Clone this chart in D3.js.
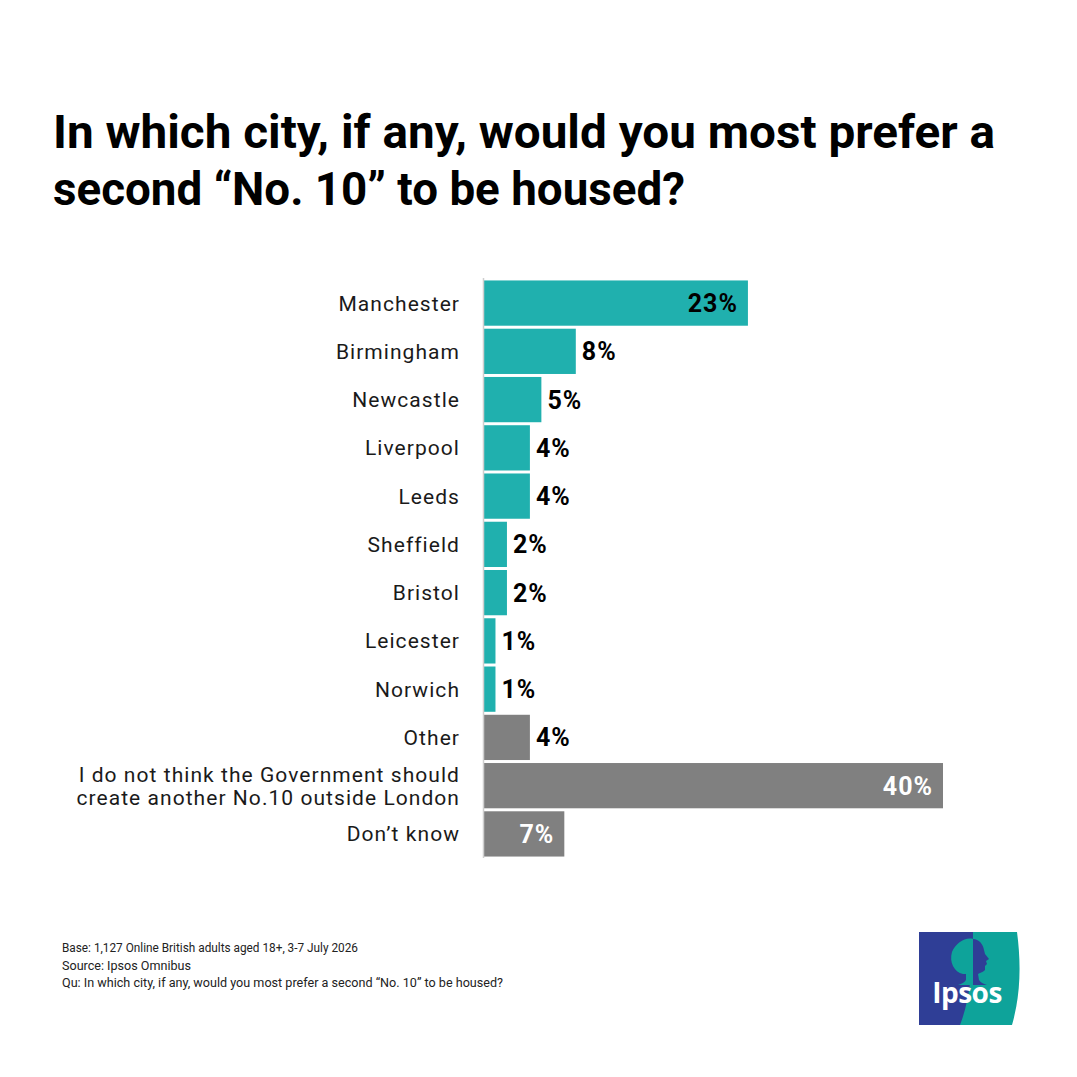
<!DOCTYPE html>
<html>
<head>
<meta charset="utf-8">
<script src="https://cdn.jsdelivr.net/npm/d3@7"></script>
<style>
  html, body { margin: 0; padding: 0; background: #ffffff; }
  svg { display: block; }
</style>
</head>
<body>
<script>
// ---------- DATA ----------
const categories = [
  "Manchester", "Birmingham", "Newcastle", "Liverpool", "Leeds", "Sheffield",
  "Bristol", "Leicester", "Norwich", "Other",
  "I do not think the Government should|create another No.10 outside London",
  "Don\u2019t know"
];
const values = [23, 8, 5, 4, 4, 2, 2, 1, 1, 4, 40, 7];
const groups = ["city","city","city","city","city","city","city","city","city","other","other","other"];
const labelInside = [true,false,false,false,false,false,false,false,false,false,true,true];
const titleLines = [
  "In which city, if any, would you most prefer a",
  "second \u201cNo. 10\u201d to be housed?"
];
const footnotes = [
  "Base: 1,127 Online British adults aged 18+, 3-7 July 2026",
  "Source: Ipsos Omnibus",
  "Qu: In which city, if any, would you most prefer a second \u201cNo. 10\u201d to be housed?"
];

// ---------- SETUP ----------
const W = 1077, H = 1077;
const colors = { city: "#20b0ae", other: "#808080" };
const svg = d3.select("body").append("svg").attr("width", W).attr("height", H);
svg.append("rect").attr("width", W).attr("height", H).attr("fill", "#fff");

// Title
const titleWidths = [942, 632];
svg.append("g").selectAll("text").data(titleLines).join("text")
  .attr("x", 53)
  .attr("y", (d, i) => 148 + i * 57)
  .attr("font-family", "Roboto, 'Open Sans', sans-serif")
  .attr("font-weight", 700)
  .attr("font-size", 46)
  .attr("fill", "#000")
  .attr("textLength", (d, i) => titleWidths[i])
  .attr("lengthAdjust", "spacingAndGlyphs")
  .text(d => d);

// Scales
const y = d3.scaleBand().domain(categories).range([279, 858]).paddingInner(0.062).paddingOuter(0.03);
const x = d3.scaleLinear().domain([0, 40]).range([484, 943]);

// Bars
const data = categories.map((c, i) => ({ c, v: values[i], g: groups[i], inside: labelInside[i] }));
svg.append("g").selectAll("rect").data(data).join("rect")
  .attr("x", x(0))
  .attr("y", d => y(d.c))
  .attr("width", d => x(d.v) - x(0))
  .attr("height", y.bandwidth())
  .attr("fill", d => colors[d.g]);

// Axis line
svg.append("line")
  .attr("x1", 483.5).attr("x2", 483.5)
  .attr("y1", 278).attr("y2", 858)
  .attr("stroke", "#cfcfcf").attr("stroke-width", 1.5);

// Category labels
const lab = svg.append("g").selectAll("text").data(data).join("text")
  .attr("x", 460)
  .attr("y", d => y(d.c) + y.bandwidth() / 2)
  .attr("text-anchor", "end")
  .attr("font-family", "Roboto, 'Open Sans', sans-serif")
  .attr("font-size", 21)
  .attr("letter-spacing", 1.05)
  .attr("fill", "#1a1a1a");
lab.each(function(d) {
  const lines = d.c.split("|");
  const t = d3.select(this);
  const lh = 23;
  lines.forEach((l, k) => {
    t.append("tspan")
      .attr("x", 460)
      .attr("dy", k === 0 ? (7.5 - (lines.length - 1) * lh / 2) : lh)
      .text(l);
  });
});

// Value labels
svg.append("g").selectAll("text").data(data).join("text")
  .attr("x", d => d.inside ? x(d.v) - 10 : x(d.v) + 6)
  .attr("y", d => y(d.c) + y.bandwidth() / 2 + 9)
  .attr("text-anchor", d => d.inside ? "end" : "start")
  .attr("font-family", "Roboto, 'Open Sans', sans-serif")
  .attr("font-weight", 700)
  .attr("font-size", 25)
  .attr("letter-spacing", 1)
  .attr("fill", d => (d.inside && d.g === "other") ? "#fff" : "#000")
  .text(d => d.v + "%");

// Footnotes
const footWidths = [296, 129, 441];
svg.append("g").selectAll("text").data(footnotes).join("text")
  .attr("x", 62)
  .attr("y", (d, i) => 952 + i * 17.5)
  .attr("font-family", "Roboto, 'Open Sans', sans-serif")
  .attr("font-size", 12)
  .attr("fill", "#222")
  .attr("textLength", (d, i) => footWidths[i])
  .attr("lengthAdjust", "spacingAndGlyphs")
  .text(d => d);

// Ipsos logo
const logo = svg.append("g").attr("transform", "translate(919,932)");
logo.append("rect").attr("width", 60).attr("height", 93).attr("fill", "#2f3e96");
logo.append("path")
  .attr("d", "M54,0 L98,0 C102,30 102,62 93,93 L41,93 C50,70 54,40 54,0 Z")
  .attr("fill", "#0ea39a");
// profile on teal side (blue)
logo.append("path")
  .attr("d", "M54,7 C60,7 64,12 65,18 L66,22 L70,27 L67,29 L68,32 L66,34 L66,38 C63,41 60,41 59,42 L60,48 C62,51 65,52 68,53 L54,53 Z")
  .attr("fill", "#2f3e96");
// hair on blue side (teal)
logo.append("path")
  .attr("d", "M54,7 C46,5 37,11 33,20 C30,30 35,40 44,42 L47,42 L47,48 C45,51 42,52 39,53 L54,53 Z")
  .attr("fill", "#0ea39a");
logo.append("text")
  .attr("x", 48).attr("y", 71)
  .attr("text-anchor", "middle")
  .attr("font-family", "'Open Sans', Roboto, sans-serif")
  .attr("font-weight", 700)
  .attr("font-size", 28)
  .attr("fill", "#fff")
  .attr("letter-spacing", -0.5)
  .text("Ipsos");
</script>
</body>
</html>
